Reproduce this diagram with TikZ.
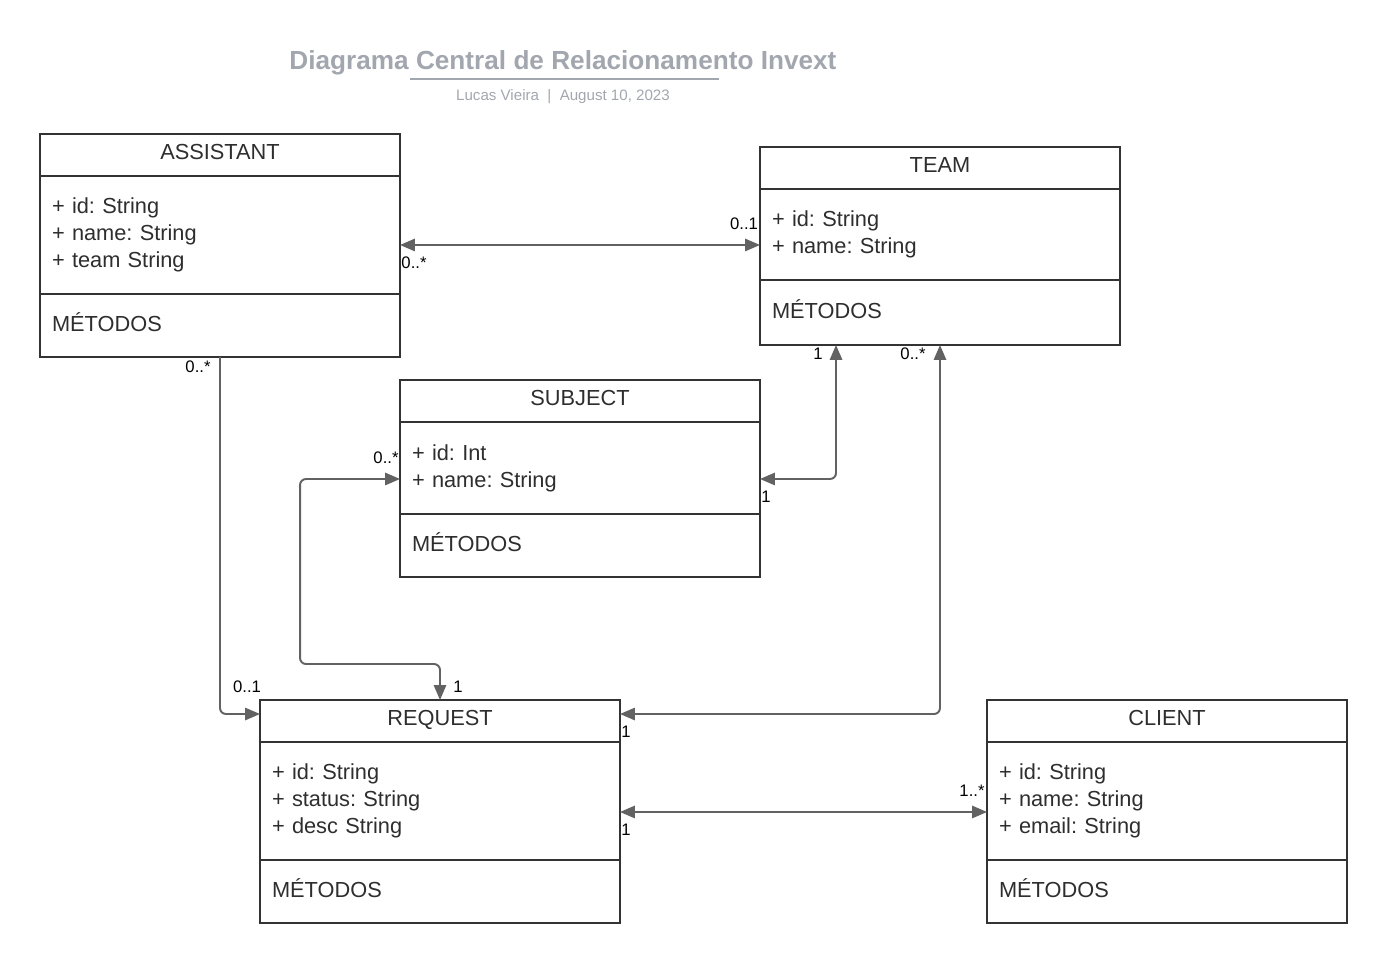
\documentclass[tikz,border=0pt]{standalone}
\usepackage{fontspec}
\setmainfont{Liberation Sans}
\usetikzlibrary{arrows.meta,positioning}
\frenchspacing

\definecolor{boxline}{HTML}{333333}
\definecolor{wire}{HTML}{626262}
\definecolor{titlegray}{HTML}{A2A6AE}
\definecolor{umltext}{HTML}{2E2E2E}

\begin{document}
\begin{tikzpicture}[x=0.02cm, y=-0.02cm,
  >={Triangle[length=8.5pt, width=7pt]},
  classhead/.style={draw=boxline, line width=1.1pt, outer sep=0pt, inner sep=0pt, minimum width=7.2cm, minimum height=0.84cm, text depth=0.12cm, font=\fontsize{12.4}{15.3}\selectfont, text=umltext},
  attrbox/.style={classhead, text depth=, text width=6.72cm, inner xsep=0.24cm, align=left},
  methbox/.style={attrbox, text depth=0.12cm},
  assoc/.style={draw=wire, line width=1.1pt, rounded corners=3.4pt, <->},
  oneway/.style={draw=wire, line width=1.1pt, rounded corners=3.4pt, ->},
  mult/.style={font=\fontsize{9.5}{11}\selectfont, inner sep=0pt, text=black},
  rule/.style={draw=titlegray, line width=1.2pt}
]
\useasboundingbox (0,0) rectangle (1387,964);

% title
\node[font=\fontsize{14.9}{17}\selectfont\bfseries, text=titlegray] (title) at (563,63) {Diagrama Central de Relacionamento Invext};
\coordinate (rule-l) at (410,79);
\coordinate (rule-r) at (719,79);
\draw[rule] (rule-l) -- (rule-r);
\node[font=\fontsize{8.6}{10}\selectfont, text=titlegray] (byline) at (563,97) {Lucas Vieira\ \ |\ \ August 10, 2023};

% classes
\node[classhead] (assistant) at (220,155) {ASSISTANT};
\node[attrbox, minimum height=2.36cm, below=0pt of assistant] (assistant-attr) {+ id: String\\+ name: String\\+ team String};
\node[methbox, minimum height=1.26cm, below=0pt of assistant-attr] (assistant-meth) {MÉTODOS};

\node[classhead] (team) at (940,168) {TEAM};
\node[attrbox, minimum height=1.82cm, below=0pt of team] (team-attr) {+ id: String\\+ name: String};
\node[methbox, minimum height=1.3cm, below=0pt of team-attr] (team-meth) {MÉTODOS};

\node[classhead] (subject) at (580,401) {SUBJECT};
\node[attrbox, minimum height=1.84cm, below=0pt of subject] (subject-attr) {+ id: Int\\+ name: String};
\node[methbox, minimum height=1.26cm, below=0pt of subject-attr] (subject-meth) {MÉTODOS};

\node[classhead] (request) at (440,721) {REQUEST};
\node[attrbox, minimum height=2.36cm, below=0pt of request] (request-attr) {+ id: String\\+ status: String\\+ desc String};
\node[methbox, minimum height=1.26cm, below=0pt of request-attr] (request-meth) {MÉTODOS};

\node[classhead] (client) at (1167,721) {CLIENT};
\node[attrbox, minimum height=2.36cm, below=0pt of client] (client-attr) {+ id: String\\+ name: String\\+ email: String};
\node[methbox, minimum height=1.26cm, below=0pt of client-attr] (client-meth) {MÉTODOS};

% associations
\draw[assoc] ([yshift=-0.2cm]assistant-attr.east) -- ([yshift=-0.2cm]assistant-attr.east -| team-attr.west);
\draw[oneway] (assistant-meth.south) |- ([yshift=0.14cm]request.west);
\draw[assoc] ([xshift=-2.08cm]team-meth.south) |- ([yshift=-0.22cm]subject-attr.east);
\draw[assoc] (team-meth.south) |- ([yshift=0.14cm]request.east);
\draw[assoc] ([yshift=-0.22cm]subject-attr.west) -- ++(-100,0) |- ([yshift=0.72cm]request.north) -- (request.north);
\draw[assoc] ([yshift=-0.22cm]request-attr.east) -- ([yshift=-0.22cm]client-attr.west);

% multiplicities
\node[mult] (m-as-team) at (414,263) {0..*};
\node[mult] (m-team-as) at (744,224) {0..1};
\node[mult] (m-as-req) at (198,367) {0..*};
\node[mult] (m-req-as) at (247,687) {0..1};
\node[mult] (m-team-sub) at (818,354) {1};
\node[mult] (m-team-req) at (913,354) {0..*};
\node[mult] (m-sub-team) at (766,497) {1};
\node[mult] (m-sub-req) at (386,458) {0..*};
\node[mult] (m-req-sub) at (458,687) {1};
\node[mult] (m-req-team) at (626,732) {1};
\node[mult] (m-req-cli) at (626,830) {1};
\node[mult] (m-cli-req) at (972,791) {1..*};

\end{tikzpicture}
\end{document}
